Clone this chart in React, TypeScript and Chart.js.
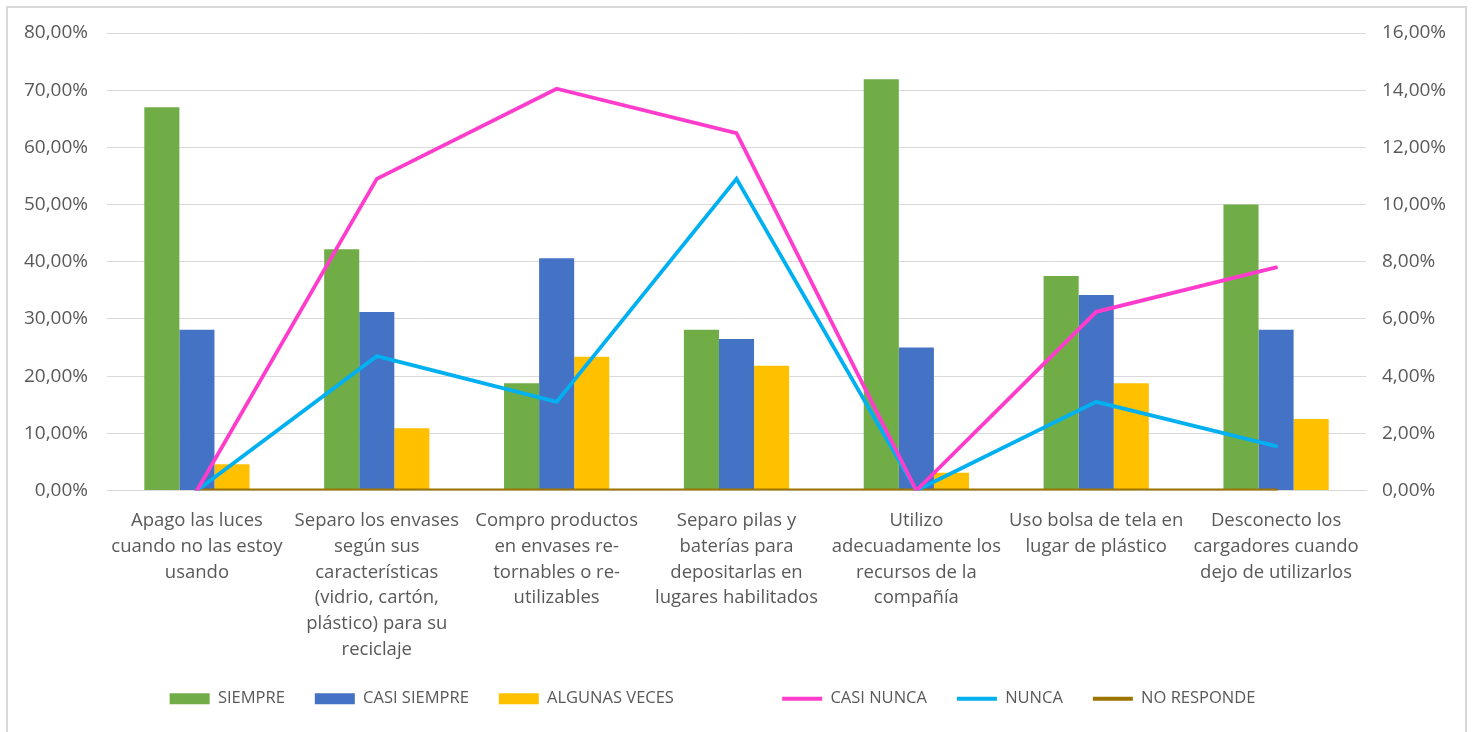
import React, { useEffect, useRef } from "react";
import { Chart, registerables } from "chart.js";

Chart.register(...registerables);

const categories: string[][] = [
  ["Apago las luces", "cuando no las estoy", "usando"],
  ["Separo los envases", "según sus", "características", "(vidrio, cartón,", "plástico) para su", "reciclaje"],
  ["Compro productos", "en envases re-", "tornables o re-", "utilizables"],
  ["Separo pilas y", "baterías para", "depositarlas en", "lugares habilitados"],
  ["Utilizo", "adecuadamente los", "recursos de la", "compañía"],
  ["Uso bolsa de tela en", "lugar de plástico"],
  ["Desconecto los", "cargadores cuando", "dejo de utilizarlos"],
];

const siempre = [67.0, 42.2, 18.75, 28.1, 71.9, 37.5, 50.0];
const casiSiempre = [28.1, 31.2, 40.6, 26.5, 25.0, 34.2, 28.1];
const algunasVeces = [4.6, 10.9, 23.4, 21.8, 3.1, 18.75, 12.5];
const casiNunca = [0, 10.9, 14.05, 12.5, 0, 6.25, 7.8];
const nunca = [0, 4.7, 3.1, 10.9, 0, 3.1, 1.55];
const noResponde = [0, 0, 0, 0, 0, 0, 0];

const leftTicks = { min: 0, max: 80, step: 10 };
const rightTicks = { min: 0, max: 16, step: 2 };

const fmt = (v: number | string) => Number(v).toFixed(2).replace(".", ",") + "%";

const FONT = "'Open Sans', sans-serif";
const TEXT = "#595959";

export default function App() {
  const ref = useRef<HTMLCanvasElement | null>(null);

  useEffect(() => {
    if (!ref.current) return;
    const lineCommon = {
      type: "line" as const,
      yAxisID: "y1",
      borderWidth: 3.8,
      pointRadius: 0,
      pointHoverRadius: 0,
      tension: 0,
      fill: false,
      borderCapStyle: "round" as const,
      pointStyle: "line" as const,
      order: 1,
    };
    const barCommon = {
      type: "bar" as const,
      yAxisID: "y",
      borderWidth: 0,
      categoryPercentage: 0.585,
      barPercentage: 1,
      pointStyle: "rect" as const,
      order: 2,
    };
    const defaultGen = (Chart.defaults as any).plugins.legend.labels.generateLabels;
    const legendShift = {
      id: "legendShift",
      afterLayout(c: any) {
        if (c.legend) c.legend.right -= 48;
      },
    };
    const chart = new Chart(ref.current, {
      type: "bar",
      plugins: [legendShift],
      data: {
        labels: categories,
        datasets: [
          { ...barCommon, label: "SIEMPRE", data: siempre, backgroundColor: "#70AD47", borderColor: "#70AD47" },
          { ...barCommon, label: "CASI SIEMPRE", data: casiSiempre, backgroundColor: "#4472C4", borderColor: "#4472C4" },
          { ...barCommon, label: "ALGUNAS VECES", data: algunasVeces, backgroundColor: "#FFC000", borderColor: "#FFC000" },
          { ...lineCommon, label: "CASI NUNCA", data: casiNunca, borderColor: "#FF3CCB", backgroundColor: "#FF3CCB" },
          { ...lineCommon, label: "NUNCA", data: nunca, borderColor: "#00B0F0", backgroundColor: "#00B0F0" },
          { ...lineCommon, label: "NO RESPONDE", data: noResponde, borderColor: "#9C7400", backgroundColor: "#9C7400" },
        ] as any,
      },
      options: {
        animation: false,
        responsive: false,
        layout: { padding: { left: 0, right: 0, top: 25, bottom: 15 } },
        plugins: {
          tooltip: { enabled: false },
          legend: {
            position: "bottom",
            onClick: () => {},
            labels: {
              usePointStyle: true,
              pointStyleWidth: 40,
              boxHeight: 11,
              padding: 30,
              color: TEXT,
              font: { family: FONT, size: 16.5 },
              generateLabels: (c: any) => {
                const items = defaultGen(c).sort((a: any, b: any) => a.datasetIndex - b.datasetIndex);
                // empty gap between the bar and the line entries, as in the original legend
                items.splice(3, 0, {
                  text: "",
                  fillStyle: "rgba(0,0,0,0)",
                  strokeStyle: "rgba(0,0,0,0)",
                  lineWidth: 0,
                  hidden: false,
                  pointStyle: "rect",
                  datasetIndex: -1,
                });
                return items;
              },
            },
          },
        },
        scales: {
          x: {
            grid: { display: false, drawTicks: false },
            border: { display: true, color: "#d9d9d9", width: 1 },
            ticks: {
              color: TEXT,
              padding: 17,
              maxRotation: 0,
              autoSkip: false,
              font: { family: FONT, size: 18.5, lineHeight: 1.4 },
            },
            afterFit: (s: any) => {
              s.height = 170;
            },
          },
          y: {
            position: "left",
            min: leftTicks.min,
            max: leftTicks.max,
            grid: { color: "#d9d9d9", lineWidth: 1, drawTicks: false },
            border: { display: false },
            ticks: {
              stepSize: leftTicks.step,
              color: TEXT,
              padding: 19,
              font: { family: FONT, size: 19 },
              callback: (v: any) => fmt(v),
            },
            afterFit: (s: any) => {
              s.width = 99;
              s.paddingTop = 0;
              s.paddingBottom = 0;
            },
          },
          y1: {
            position: "right",
            min: rightTicks.min,
            max: rightTicks.max,
            grid: { display: false, drawTicks: false },
            border: { display: false },
            ticks: {
              stepSize: rightTicks.step,
              color: TEXT,
              padding: 16,
              font: { family: FONT, size: 19 },
              callback: (v: any) => fmt(v),
            },
            afterFit: (s: any) => {
              s.width = 99;
              s.paddingTop = 0;
              s.paddingBottom = 0;
            },
          },
        },
      } as any,
    });
    return () => chart.destroy();
  }, []);

  return (
    <div
      style={{
        position: "fixed",
        left: 6,
        top: 6,
        width: 1461,
        height: 740,
        border: "2px solid #d9d9d9",
        boxSizing: "border-box",
        background: "#fff",
      }}
    >
      <canvas ref={ref} width={1457} height={724} style={{ display: "block" }} />
    </div>
  );
}
